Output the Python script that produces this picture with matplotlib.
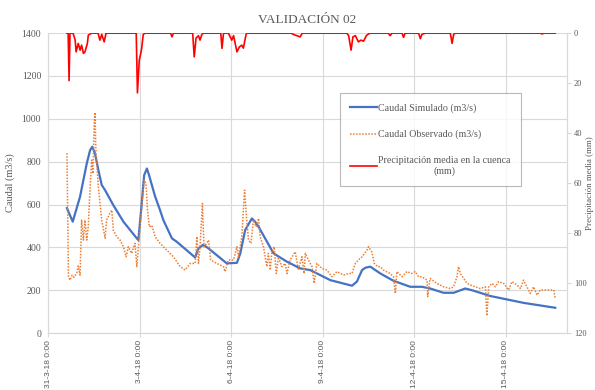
import matplotlib
matplotlib.use('Agg')
import matplotlib.pyplot as plt

# days counted from 31-3-18 0:00
sim_t = [0.62, 0.81, 1.05, 1.27, 1.38, 1.45, 1.54, 1.65, 1.76, 1.87, 2.14, 2.47,
         2.91, 2.96, 3.07, 3.15, 3.24, 3.31, 3.51, 3.67, 3.78, 4.06,
         4.22, 4.82, 4.93, 5.07, 5.15, 5.26, 5.86, 6.19, 6.30, 6.46, 6.68, 6.79,
         6.90, 7.39, 7.83, 8.26, 8.59, 9.25, 9.96, 10.12, 10.29, 10.40, 10.56,
         10.89, 11.32, 11.87, 12.25, 12.52, 12.96, 13.29, 13.67, 13.89, 14.49,
         15.58, 16.62]
sim_q = [583, 520, 637, 792, 854, 870, 838, 761, 691, 667, 597, 520,
         442, 434, 605, 737, 768, 737, 637, 574, 527, 442,
         426, 353, 395, 411, 406, 395, 325, 328, 372, 481, 535, 519,
         496, 372, 333, 302, 294, 247, 221, 240, 294, 305, 310,
         278, 244, 216, 216, 208, 188, 188, 208, 200, 173,
         141, 118]

obs_t = [0.62, 0.67, 0.72, 0.79, 0.85, 0.94, 0.99, 1.05, 1.10, 1.16, 1.21, 1.27,
         1.32, 1.38, 1.43, 1.47, 1.52, 1.54, 1.57, 1.65, 1.76, 1.87, 1.92, 1.98,
         2.03, 2.09, 2.14, 2.25, 2.36, 2.47, 2.56, 2.63, 2.74, 2.85, 2.91, 2.96,
         3.07, 3.15, 3.21, 3.26, 3.32, 3.40, 3.51, 3.67, 3.89, 4.11, 4.33, 4.49,
         4.66, 4.82, 4.88, 4.93, 4.98, 5.06, 5.11, 5.20, 5.26, 5.33, 5.53, 5.75,
         5.80, 5.91, 6.08, 6.19, 6.24, 6.35, 6.44, 6.51, 6.57, 6.65, 6.73, 6.82,
         6.90, 6.95, 7.06, 7.17, 7.22, 7.28, 7.33, 7.41, 7.48, 7.55, 7.66, 7.77,
         7.83, 7.93, 8.10, 8.20, 8.32, 8.39, 8.43, 8.53, 8.65, 8.72, 8.81, 8.97,
         9.14, 9.30, 9.47, 9.68, 9.85, 9.96, 10.07, 10.17, 10.29, 10.45, 10.50,
         10.61, 10.69, 10.80, 10.89, 10.99, 11.21, 11.32, 11.38, 11.43, 11.60,
         11.76, 11.92, 12.03, 12.14, 12.25, 12.42, 12.44, 12.52, 12.74, 12.96,
         13.18, 13.29, 13.40, 13.45, 13.51, 13.62, 13.73, 13.84, 14.00, 14.16,
         14.33, 14.38, 14.44, 14.55, 14.66, 14.76, 14.93, 15.09, 15.20, 15.37,
         15.48, 15.58, 15.69, 15.80, 15.91, 16.02, 16.13, 16.30, 16.46, 16.57,
         16.62]
obs_q = [840, 263, 247, 270, 260, 280, 313, 270, 527, 434, 527, 434,
         500, 683, 807, 745, 994, 1030, 840, 683, 527, 443, 527, 545,
         560, 574, 480, 450, 434, 403, 356, 403, 372, 419, 310, 403,
         589, 714, 699, 574, 496, 503, 450, 419, 387, 356, 310, 294,
         325, 325, 450, 325, 403, 605, 403, 419, 434, 341, 325, 310,
         287, 341, 341, 403, 356, 450, 667, 527, 434, 419, 527, 496,
         535, 450, 403, 310, 372, 294, 372, 403, 278, 356, 310, 325,
         278, 341, 379, 294, 356, 278, 372, 341, 310, 232, 325, 302,
         294, 263, 287, 271, 278, 278, 325, 341, 356, 387, 403,
         379, 325, 310, 310, 294, 278, 263, 185, 287, 263,
         287, 278, 287, 263, 263, 247, 170, 255, 232, 216,
         208, 216, 263, 310, 278, 255, 232, 224, 216, 208,
         216, 80, 216, 232, 216, 240, 232, 201, 240, 224,
         208, 247, 216, 185, 216, 177, 201, 201, 201, 201,
         162]

pp_t = [0.62, 0.66, 0.69, 0.72, 0.82, 0.89, 0.92, 0.99, 1.05, 1.10, 1.16, 1.21,
        1.29, 1.32, 1.43, 1.64, 1.70, 1.76, 1.84, 1.90, 2.89, 2.93, 2.99, 3.04,
        3.07, 3.12, 3.18, 4.02, 4.06, 4.11, 4.74, 4.79, 4.85, 4.93, 4.98, 5.04,
        5.09, 5.66, 5.70, 5.75, 5.91, 6.02, 6.08, 6.19, 6.27, 6.35, 6.40, 6.49,
        6.51, 7.97, 8.04, 8.26, 8.33, 9.79, 9.85, 9.93, 9.99, 10.07, 10.17,
        10.25, 10.34, 10.43, 10.50, 10.56, 11.15, 11.21, 11.27, 11.60, 11.65,
        11.70, 12.14, 12.20, 12.25, 12.36, 13.18, 13.24, 13.29, 13.34, 16.13,
        16.19, 16.25, 16.62]
pp_mm = [0, 0, 19, 0, 0, 2.8, 7.5, 4.1, 6.8, 4.8, 8.1, 7.5,
         4.1, 0.8, 0, 0, 2.8, 0.5, 3.5, 0, 0, 23.9, 10.8, 8,
         6, 0.5, 0, 0, 1.5, 0, 0, 9.5, 2, 1, 2.8, 0.5,
         0, 0, 6.1, 0, 0, 2.8, 1, 7.5, 5.5, 4.8, 6, 0.5,
         0, 0, 0.5, 1.5, 0, 0, 1, 6.8, 1.5, 1, 3.5,
         2.8, 3.2, 1, 0.3, 0, 0, 1, 0, 0, 1.7,
         0, 0, 2.2, 0.5, 0, 0, 4.1, 0.5, 0, 0,
         0.3, 0, 0]

tick_days = [0, 3, 6, 9, 12, 15]
tick_labels = ['31-3-18 0:00', '3-4-18 0:00', '6-4-18 0:00',
               '9-4-18 0:00', '12-4-18 0:00', '15-4-18 0:00']

gray = '#595959'
grid_c = '#d9d9d9'
serif = 'Liberation Serif'

fig = plt.figure(figsize=(5.95, 3.9), dpi=100)
ax = fig.add_axes([0.0807, 0.146, 0.872, 0.769])
ax2 = ax.twinx()

l1, = ax.plot(sim_t, sim_q, color='#4472c4', lw=1.6, label='Caudal Simulado (m3/s)',
              solid_joinstyle='round')
l2, = ax.plot(obs_t, obs_q, color='#ed7d31', lw=1.1, ls=(0, (1, 1)),
              label='Caudal Observado (m3/s)')
l3, = ax2.plot(pp_t, pp_mm, color='#ff0000', lw=1.2,
               label='Precipitación media en la cuenca\n(mm)')

ax.set_xlim(0, 17)
ax.set_ylim(0, 1400)
ax.set_yticks(range(0, 1401, 200))
ax.set_xticks(tick_days)
ax.set_xticklabels(tick_labels, rotation=90, fontsize=6, color=gray,
                   family='Liberation Sans')
ax.grid(True, color=grid_c, lw=0.8)
ax.set_axisbelow(True)
ax.tick_params(axis='y', length=0, labelsize=7, labelcolor=gray, pad=5)
ax.tick_params(axis='x', length=3, color=grid_c, pad=2)
for lab in ax.get_yticklabels():
    lab.set_family(serif)

ax2.set_ylim(120, 0)
ax2.set_yticks(range(0, 121, 20))
ax2.tick_params(axis='y', length=3, color=grid_c, labelsize=6, labelcolor=gray, pad=2)
for lab in ax2.get_yticklabels():
    lab.set_family(serif)

for a in (ax, ax2):
    a.spines['top'].set_visible(False)
    a.spines['left'].set_color(grid_c)
    a.spines['bottom'].set_color(grid_c)
    a.spines['right'].set_color(grid_c)

ax.set_ylabel('Caudal (m3/s)', family=serif, fontsize=7.5, color=gray)
ax.yaxis.set_label_coords(-0.064, 0.5)
ax2.set_ylabel('Precipitación media (mm)', family=serif, fontsize=6.5, color=gray,
               rotation=90)
ax2.yaxis.set_label_coords(1.0375, 0.5)
ax.set_title('VALIDACIÓN 02', family=serif, fontsize=9.5, color=gray, pad=7)

leg = ax2.legend(handles=[l1, l2, l3], loc='upper left', bbox_to_anchor=(0.563, 0.80),
                 prop={'family': serif, 'size': 7.2}, frameon=True, fancybox=False,
                 edgecolor='#a6a6a6', labelspacing=1.7, handlelength=2.7,
                 handletextpad=0.1, borderpad=1.0, borderaxespad=0)
leg.get_frame().set_linewidth(0.8)
for txt in leg.get_texts():
    txt.set_color(gray)
    txt.set_multialignment('center')

fig.savefig('out.png', dpi=100)
